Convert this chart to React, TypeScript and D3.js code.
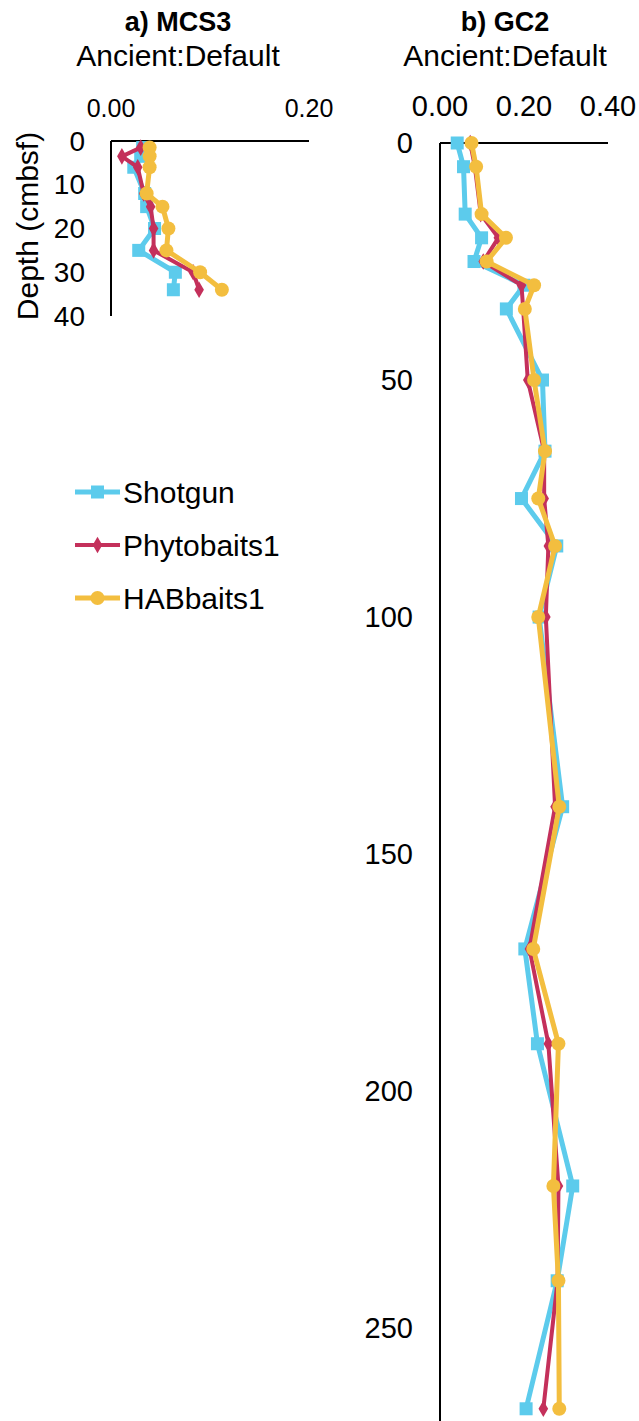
import React from "react";
import * as d3 from "d3";

// ---------- DATA ----------
const seriesNames = ["Shotgun", "Phytobaits1", "HABbaits1"];
const seriesColors = ["#5CCBEC", "#C4305B", "#F3BE3F"];

// Panel a) MCS3
const mcsDepth = [1.5, 3.5, 6, 12, 15, 20, 25, 30, 34];
const mcsShotgun = [0.032, 0.03, 0.023, 0.034, 0.036, 0.044, 0.028, 0.065, 0.063];
const mcsPhyto = [0.03, 0.011, 0.027, 0.033, 0.04, 0.043, 0.043, 0.083, 0.089];
const mcsHAB = [0.039, 0.039, 0.039, 0.036, 0.052, 0.058, 0.056, 0.09, 0.112];
const mcsXTicks = [0, 0.2];
const mcsYTicks = [0, 10, 20, 30, 40];

// Panel b) GC2
const gcDepth = [0, 5, 15, 20, 25, 30, 35, 50, 65, 75, 85, 100, 140, 170, 190, 220, 240, 267];
const gcShotgun = [0.041, 0.056, 0.06, 0.099, 0.081, 0.2, 0.158, 0.244, 0.25, 0.194, 0.278, 0.236, 0.292, 0.202, 0.232, 0.316, 0.279, 0.205];
const gcPhyto = [0.072, 0.083, 0.097, 0.139, 0.103, 0.194, 0.198, 0.209, 0.248, 0.248, 0.258, 0.252, 0.274, 0.213, 0.258, 0.282, 0.28, 0.246];
const gcHAB = [0.075, 0.086, 0.099, 0.157, 0.111, 0.224, 0.202, 0.224, 0.25, 0.234, 0.274, 0.234, 0.284, 0.222, 0.282, 0.27, 0.282, 0.284];
const gcXTicks = [0, 0.2, 0.4];
const gcYTicks = [0, 50, 100, 150, 200, 250];

const FONT = "'Liberation Sans', Arial, Helvetica, sans-serif";

type Pt = { v: number; d: number };

function Marker({ kind, x, y, color }: { kind: number; x: number; y: number; color: string }) {
  if (kind === 0) return <rect x={x - 6.5} y={y - 6.5} width={13} height={13} fill={color} />;
  if (kind === 1) {
    const s = d3.symbol().type(d3.symbolDiamond).size(80)();
    return <path d={s || ""} transform={`translate(${x},${y})`} fill={color} />;
  }
  return <circle cx={x} cy={y} r={7} fill={color} />;
}

function Panel({
  depth, series, xDomain, xRange, yDomain, yRange, xTicks, yTicks, xFont, yFont, xLabelY, yLabelX,
  title, titleX,
}: any) {
  const x = d3.scaleLinear().domain(xDomain).range(xRange);
  const y = d3.scaleLinear().domain(yDomain).range(yRange);
  const line = d3.line<Pt>().x((p) => x(p.v)).y((p) => y(p.d));
  const widths = [5, 4, 5];
  return (
    <g>
      <text x={titleX} y={31} textAnchor="middle" fontFamily={FONT} fontWeight="bold" fontSize={27}>{title}</text>
      <text x={titleX} y={66} textAnchor="middle" fontFamily={FONT} fontSize={30}>Ancient:Default</text>
      {xTicks.map((t: number) => (
        <text key={"xt" + t} x={x(t)} y={xLabelY} textAnchor="middle" fontFamily={FONT} fontSize={xFont}>{t.toFixed(2)}</text>
      ))}
      {yTicks.map((t: number) => (
        <text key={"yt" + t} x={yLabelX} y={y(t)} textAnchor="end" dominantBaseline="central" fontFamily={FONT} fontSize={yFont}>{t}</text>
      ))}
      <line x1={xRange[0]} x2={xRange[1]} y1={yRange[0]} y2={yRange[0]} stroke="#000" strokeWidth={2} />
      <line x1={xRange[0]} x2={xRange[0]} y1={yRange[0]} y2={yRange[1]} stroke="#000" strokeWidth={2} />
      {series.map((vals: number[], si: number) => {
        const pts: Pt[] = vals.map((v, i) => ({ v, d: depth[i] }));
        return (
          <g key={si}>
            <path d={line(pts) || ""} fill="none" stroke={seriesColors[si]} strokeWidth={widths[si]} strokeLinejoin="round" />
            {pts.map((p, i) => (
              <Marker key={i} kind={si} x={x(p.v)} y={y(p.d)} color={seriesColors[si]} />
            ))}
          </g>
        );
      })}
    </g>
  );
}

export default function App() {
  const legendY = [492, 545, 598];
  return (
    <svg width={639} height={1421} style={{ position: "absolute", left: 0, top: 0, background: "#fff" }}>
      <rect width={639} height={1421} fill="#fff" />
      <Panel
        depth={mcsDepth}
        series={[mcsShotgun, mcsPhyto, mcsHAB]}
        xDomain={[0, 0.2]} xRange={[111, 309]}
        yDomain={[0, 40]} yRange={[141, 316]}
        xTicks={mcsXTicks} yTicks={mcsYTicks}
        xFont={25} yFont={28} xLabelY={117} yLabelX={85}
        title="a) MCS3" titleX={178}
      />
      <Panel
        depth={gcDepth}
        series={[gcShotgun, gcPhyto, gcHAB]}
        xDomain={[0, 0.4]} xRange={[440, 608]}
        yDomain={[0, 270]} yRange={[143, 1423]}
        xTicks={gcXTicks} yTicks={gcYTicks}
        xFont={29} yFont={29} xLabelY={116} yLabelX={413}
        title="b) GC2" titleX={505}
      />
      <text transform="translate(38,226) rotate(-90)" textAnchor="middle" fontFamily={FONT} fontSize={30}>Depth (cmbsf)</text>
      {seriesNames.map((n, i) => (
        <g key={n}>
          <line x1={75} x2={120} y1={legendY[i]} y2={legendY[i]} stroke={seriesColors[i]} strokeWidth={i === 1 ? 4 : 5} />
          <Marker kind={i} x={97.5} y={legendY[i]} color={seriesColors[i]} />
          <text x={123} y={legendY[i]} dominantBaseline="central" fontFamily={FONT} fontSize={30}>{n}</text>
        </g>
      ))}
    </svg>
  );
}
